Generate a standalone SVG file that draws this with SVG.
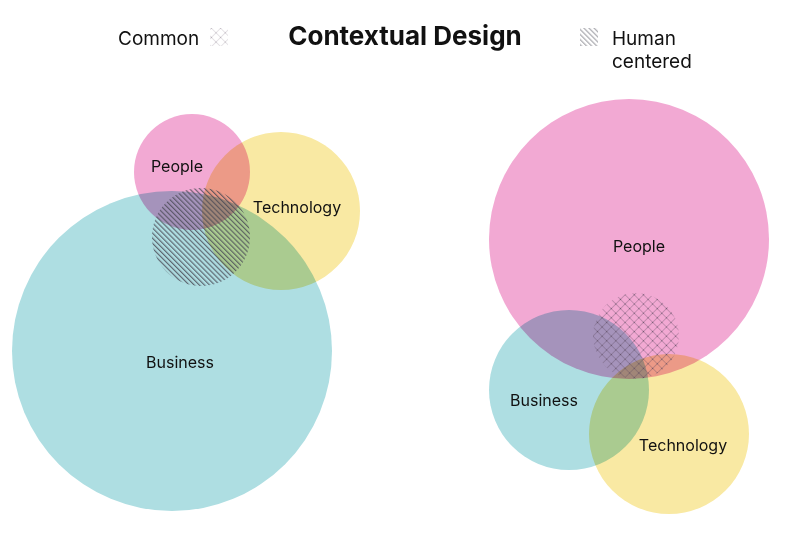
<svg xmlns="http://www.w3.org/2000/svg" width="812" height="542" viewBox="0 0 812 542">
<style>
.t{font-family:Inter,"Liberation Sans",sans-serif;fill:#111}
.lbl{font-size:16px}
.leg{font-size:19px}
.pink{fill:#f2a9d3}
.teal{fill:#aedee2}
.yel{fill:#f9e9a3}
.bl{mix-blend-mode:multiply}
</style>
<defs>
<pattern id="diag" width="3.6" height="3.6" patternUnits="userSpaceOnUse" patternTransform="rotate(-45)">
<rect x="0" y="0" width="1.2" height="3.6" fill="#4a4a55" opacity="0.8"/>
</pattern>
<pattern id="cross" width="6.5" height="6.5" patternUnits="userSpaceOnUse" patternTransform="rotate(45)">
<line x1="0" y1="0" x2="6.5" y2="0" stroke="#5a4a60" stroke-width="0.8" opacity="0.75"/>
<line x1="0" y1="0" x2="0" y2="6.5" stroke="#5a4a60" stroke-width="0.8" opacity="0.75"/>
<circle cx="0" cy="0" r="1.1" fill="#5a4a60" opacity="0.8"/>
</pattern>
</defs>
<rect width="812" height="542" fill="#fff"/>
<g id="legend">
<text class="t" x="405" y="45" text-anchor="middle" font-size="26" font-weight="bold">Contextual Design</text>
<text class="t leg" x="118" y="45">Common</text>
<rect x="210" y="28" width="18" height="18" fill="url(#cross)" opacity="0.5"/>
<rect x="580" y="28" width="18" height="18" fill="url(#diag)" opacity="0.6"/>
<text class="t leg" x="612" y="45">Human</text>
<text class="t leg" x="612" y="68">centered</text>
</g>
<g id="left" style="isolation:isolate">
<g id="l-business"><circle class="teal bl" cx="172" cy="351" r="160"/></g>
<g id="l-people"><circle class="pink bl" cx="192" cy="172" r="58"/></g>
<g id="l-technology"><circle class="yel bl" cx="281" cy="211" r="79"/></g>
<g id="l-human"><circle cx="201" cy="237" r="49" fill="url(#diag)"/></g>
<text class="t lbl" x="177" y="172" text-anchor="middle">People</text>
<text class="t lbl" x="297" y="213" text-anchor="middle">Technology</text>
<text class="t lbl" x="180" y="368" text-anchor="middle">Business</text>
</g>
<g id="right" style="isolation:isolate">
<g id="r-people"><circle class="pink bl" cx="629" cy="239" r="140"/></g>
<g id="r-business"><circle class="teal bl" cx="569" cy="390" r="80"/></g>
<g id="r-technology"><circle class="yel bl" cx="669" cy="434" r="80"/></g>
<g id="r-common"><circle cx="636" cy="336" r="43" fill="url(#cross)"/></g>
<text class="t lbl" x="639" y="252" text-anchor="middle">People</text>
<text class="t lbl" x="544" y="406" text-anchor="middle">Business</text>
<text class="t lbl" x="683" y="451" text-anchor="middle">Technology</text>
</g>
<g id="connectors"></g>
</svg>
